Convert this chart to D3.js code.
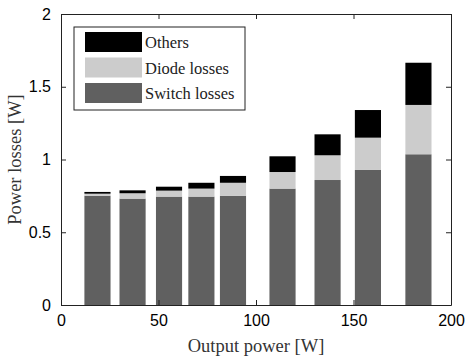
<!DOCTYPE html>
<html>
<head>
<meta charset="utf-8">
<script src="https://cdn.jsdelivr.net/npm/d3@7"></script>
<style>
  body { margin: 0; background: #fff; }
</style>
</head>
<body>
<div class="main"><svg></svg></div>
<script>
// output power of each bar [W]
const powers = [18.7, 36.7, 55.4, 72, 88.2, 113.6, 136.7, 157.4, 183.3];
const switchLosses = [0.751, 0.731, 0.745, 0.745, 0.751, 0.80, 0.859, 0.928, 1.036];
const diodeLosses = [0.014, 0.037, 0.041, 0.055, 0.089, 0.114, 0.170, 0.222, 0.339];
const otherLosses = [0.012, 0.020, 0.027, 0.040, 0.047, 0.108, 0.144, 0.190, 0.290];
const xTicks = [0, 50, 100, 150, 200];
const yTicks = [0, 0.5, 1, 1.5, 2];
const seriesNames = ['Switch losses', 'Diode losses', 'Others'];
const seriesColors = ['#606060', '#cccccc', '#000000'];

const svgWidth = 465, svgHeight = 358;
const margin = { left: 61, right: 14, top: 14, bottom: 53 };
const barW = 13.4; // in W

const svg = d3.select('.main').select('svg')
  .attr('width', svgWidth)
  .attr('height', svgHeight);

const x = d3.scaleLinear().domain([0, 200]).range([margin.left, svgWidth - margin.right]);
const y = d3.scaleLinear().domain([0, 2]).range([svgHeight - margin.bottom, margin.top]);

const rows = powers.map((p, i) => ({
  p: p,
  'Switch losses': switchLosses[i],
  'Diode losses': diodeLosses[i],
  'Others': otherLosses[i]
}));
const stacked = d3.stack().keys(seriesNames)(rows);

svg.selectAll('g.layer')
  .data(stacked)
  .enter()
  .append('g')
  .attr('class', 'layer')
  .style('fill', (d, i) => seriesColors[i])
  .selectAll('rect')
  .data(d => d)
  .enter()
  .append('rect')
  .attr('x', d => x(d.data.p - barW / 2))
  .attr('width', d => x(barW) - x(0))
  .attr('y', d => y(d[1]))
  .attr('height', d => y(d[0]) - y(d[1]));

// axes box, ticks inside like matlab
const axisColor = '#222';
const tickFont = '"Liberation Sans", Arial, sans-serif';
const serifFont = '"Liberation Serif", "Times New Roman", serif';

const xAxis = svg.append('g')
  .attr('transform', `translate(0,${y(0)})`)
  .call(d3.axisBottom(x).tickValues(xTicks).tickFormat(d3.format('d')).tickSizeInner(-5).tickSizeOuter(0).tickPadding(10));
const xAxisTop = svg.append('g')
  .attr('transform', `translate(0,${y(2)})`)
  .call(d3.axisTop(x).tickValues(xTicks).tickFormat('').tickSizeInner(-5).tickSizeOuter(0));
const yAxis = svg.append('g')
  .attr('transform', `translate(${x(0)},0)`)
  .call(d3.axisLeft(y).tickValues(yTicks).tickFormat(d3.format('')).tickSizeInner(-5).tickSizeOuter(0).tickPadding(10));
const yAxisRight = svg.append('g')
  .attr('transform', `translate(${x(200)},0)`)
  .call(d3.axisRight(y).tickValues(yTicks).tickFormat('').tickSizeInner(-5).tickSizeOuter(0));

[xAxis, xAxisTop, yAxis, yAxisRight].forEach(a => {
  a.selectAll('path').attr('stroke', axisColor);
  a.selectAll('line').attr('stroke', axisColor);
  a.selectAll('text')
    .style('font-family', tickFont)
    .style('font-size', '16px')
    .attr('fill', '#000');
});

// axis titles
svg.append('text')
  .attr('x', (x(0) + x(200)) / 2)
  .attr('y', 352)
  .attr('text-anchor', 'middle')
  .style('font-family', serifFont)
  .style('font-size', '18.5px')
  .style('fill', '#333')
  .text('Output power [W]');

svg.append('text')
  .attr('transform', `translate(21,${(y(0) + y(2)) / 2}) rotate(-90)`)
  .attr('text-anchor', 'middle')
  .style('font-family', serifFont)
  .style('font-size', '18.5px')
  .style('fill', '#333')
  .text('Power losses [W]');

// legend
const legend = svg.append('g').attr('transform', 'translate(74,27)');
legend.append('rect')
  .attr('width', 171)
  .attr('height', 83)
  .style('fill', '#fff')
  .style('stroke', axisColor);

const legendItems = seriesNames.slice().reverse();
const legendColors = seriesColors.slice().reverse();
const item = legend.selectAll('g.item')
  .data(legendItems)
  .enter()
  .append('g')
  .attr('class', 'item')
  .attr('transform', (d, i) => `translate(11,${5 + i * 25.5})`);
item.append('rect')
  .attr('width', 57)
  .attr('height', 20)
  .style('fill', (d, i) => legendColors[i]);
item.append('text')
  .attr('x', 60)
  .attr('y', 16)
  .style('font-family', serifFont)
  .style('font-size', '16.5px')
  .style('fill', '#222')
  .text(d => d);
</script>
</body>
</html>
